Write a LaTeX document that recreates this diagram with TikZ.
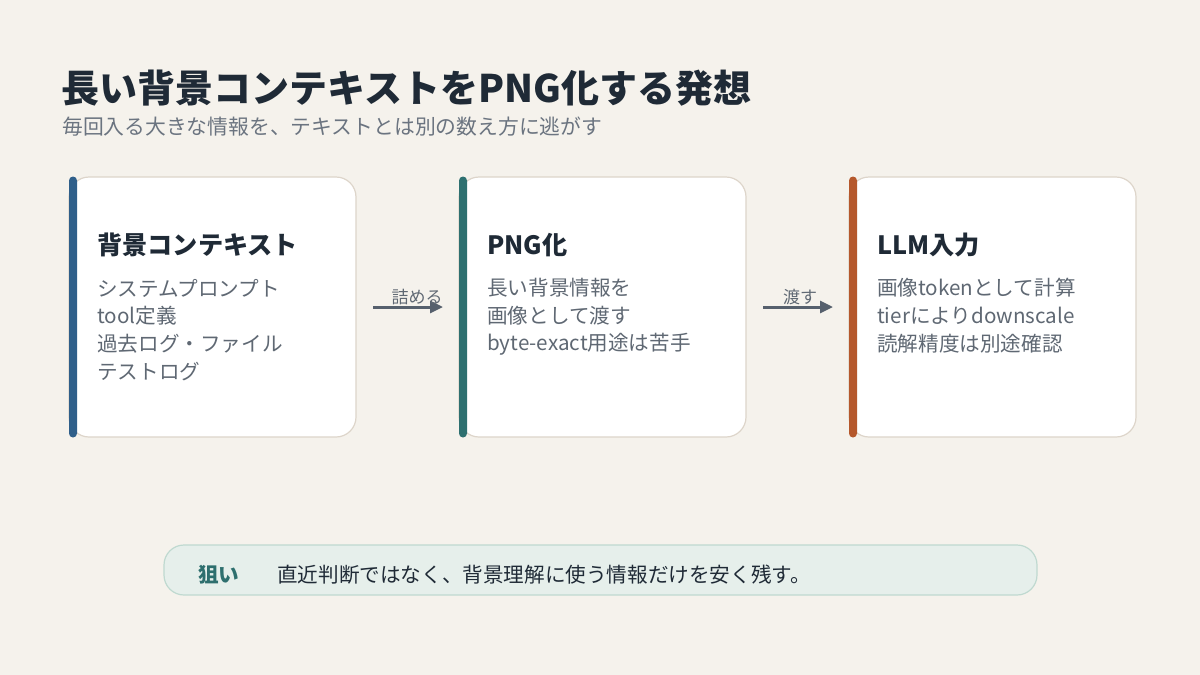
\documentclass[tikz,border=0pt]{standalone}
\usepackage{fontspec}
\setmainfont{Noto Sans CJK JP}
\usetikzlibrary{arrows.meta}
\definecolor{bg}{HTML}{F5F2EC}
\definecolor{ink}{HTML}{1F2A36}
\definecolor{sub}{HTML}{6B7480}
\definecolor{body}{HTML}{5F6873}
\definecolor{cardline}{HTML}{DDD5CA}
\definecolor{barblue}{HTML}{2F5F8A}
\definecolor{barteal}{HTML}{2E7070}
\definecolor{barorange}{HTML}{B5582C}
\definecolor{arrowc}{HTML}{56606D}
\definecolor{goalfill}{HTML}{E6EFEB}
\definecolor{goalline}{HTML}{BFD9D0}
\definecolor{goalteal}{HTML}{2E6F6E}
\tikzset{
  card/.style={draw=cardline, line width=1.2pt, fill=white, rounded corners=20pt,
    minimum width=287pt, minimum height=260pt, inner sep=0pt, outer sep=0pt},
  bar/.style={rounded corners=4pt, minimum width=8pt, minimum height=261pt,
    inner sep=0pt, outer sep=0pt},
  head/.style={anchor=west, inner sep=0pt, text=ink, font=\fontsize{25.2}{30}\selectfont\bfseries},
  line/.style={anchor=west, inner sep=0pt, text=body, font=\fontsize{20.6}{24}\selectfont},
  arr/.style={draw=arrowc, line width=3pt, -{Triangle[length=13pt,width=12pt]}},
  arrlabel/.style={inner sep=0pt, text=body, font=\fontsize{17}{20}\selectfont},
}
\begin{document}
\begin{tikzpicture}[x=1pt,y=-1pt]
\useasboundingbox[fill=bg] (0,0) rectangle (1200,675);
% title
\node[anchor=west, inner sep=0pt, text=ink, font=\fontsize{38}{44}\selectfont\bfseries] (title) at (61,88) {長い背景コンテキストをPNG化する発想};
\node[anchor=west, inner sep=0pt, text=sub, font=\fontsize{20.8}{24}\selectfont] (subtitle) at (62,127) {毎回入る大きな情報を、テキストとは別の数え方に逃がす};
% cards
\node[card] (card1) at (212.5,307) {};
\node[bar, fill=barblue] (bar1) at (73,307) {};
\node[head] (h1) at (97,245) {背景コンテキスト};
\node[line] (l11) at (97,288) {システムプロンプト};
\node[line] (l12) at (97,316) {tool定義};
\node[line] (l13) at (97,344) {過去ログ・ファイル};
\node[line] (l14) at (97,372) {テストログ};

\node[card] (card2) at (602.5,307) {};
\node[bar, fill=barteal] (bar2) at (463,307) {};
\node[head] (h2) at (487,245) {PNG化};
\node[line] (l21) at (487,288) {長い背景情報を};
\node[line] (l22) at (487,316) {画像として渡す};
\node[line] (l23) at (487,344) {byte-exact用途は苦手};

\node[card] (card3) at (992.5,307) {};
\node[bar, fill=barorange] (bar3) at (853,307) {};
\node[head] (h3) at (877,245) {LLM入力};
\node[line] (l31) at (877,288) {画像tokenとして計算};
\node[line] (l32) at (877,316) {tierによりdownscale};
\node[line] (l33) at (877,344) {読解精度は別途確認};
% arrows
\draw[arr, shorten <=17pt, shorten >=16pt] (card1.east) -- (card2.west);
\node[arrlabel] (a1) at (417,297) {詰める};
\draw[arr, shorten <=17pt, shorten >=16pt] (card2.east) -- (card3.west);
\node[arrlabel] (a2) at (800,297) {渡す};
% goal box
\node[draw=goalline, line width=1.2pt, fill=goalfill, rounded corners=20pt,
  minimum width=873pt, minimum height=50pt, inner sep=0pt] (goal) at (600.5,570) {};
\node[anchor=west, inner sep=0pt, text=goalteal, font=\fontsize{20.6}{24}\selectfont\bfseries] (goalkey) at (198,575) {狙い};
\node[anchor=west, inner sep=0pt, text=ink, font=\fontsize{20.6}{24}\selectfont] (goaltext) at (277,575) {直近判断ではなく、背景理解に使う情報だけを安く残す。};
\end{tikzpicture}
\end{document}
